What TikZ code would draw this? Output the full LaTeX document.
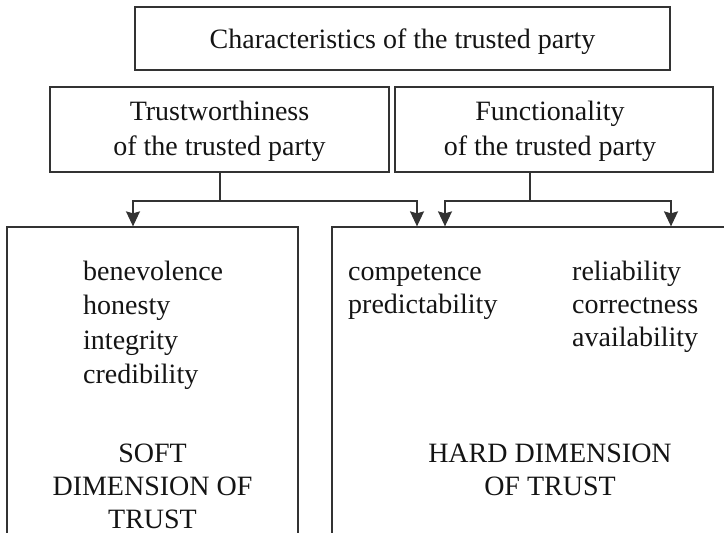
\documentclass[tikz,border=0pt]{standalone}
\usepackage{fontspec}
\setmainfont{Liberation Serif}
\usetikzlibrary{arrows.meta}
\definecolor{inkline}{HTML}{333333}
\definecolor{inktext}{HTML}{141414}
\begin{document}
\begin{tikzpicture}[x=1pt,y=-1pt,
  frame/.style={draw=inkline, line width=1.3pt, rectangle, inner sep=0pt},
  caption/.style={font=\fontsize{28}{35}\selectfont, text=inktext, inner sep=0pt, align=center},
  listtext/.style={font=\fontsize{28}{34.5}\selectfont, text=inktext, inner sep=0pt},
  link/.style={draw=inkline, line width=1.3pt},
  tip/.style={link, -{Stealth[length=15pt,width=14pt,inset=2pt]}}]
\useasboundingbox (0,0) rectangle (724,533);
\clip (0,0) rectangle (724,533);

% heading box
\node[frame, minimum width=535pt, minimum height=63pt] (top) at (402.5,38.5) {};
\node[caption] (toptext) at ([yshift=-3pt]top.center) {Characteristics of the trusted party};

% the two aspects
\node[frame, minimum width=339pt, minimum height=85pt] (worth) at (219.5,129.5) {};
\node[caption] (worthtext) at ([yshift=-2pt]worth.center) {Trustworthiness\\of the trusted party};
\node[frame, minimum width=318pt, minimum height=85pt] (func) at (554,129.5) {};
\node[caption] (functext) at ([xshift=-4pt,yshift=-2pt]func.center) {Functionality\\of the trusted party};

% the two dimensions (open at the bottom)
\node[frame, minimum width=291pt, minimum height=400pt] (soft) at (152.5,427) {};
\node[frame, minimum width=440pt, minimum height=400pt] (hard) at (552,427) {};

% branch points and arrow targets
\coordinate (wj) at (220,201);
\coordinate (fj) at (530,201);
\coordinate (a1) at (133,0);
\coordinate (a2) at (417,0);
\coordinate (a3) at (445,0);
\coordinate (a4) at (671,0);

\draw[link] (wj |- worth.south) -- (wj);
\draw[tip] (wj) -| (a1 |- soft.north);
\draw[tip] (wj) -| (a2 |- hard.north);
\draw[link] (fj |- func.south) -- (fj);
\draw[tip] (fj) -| (a3 |- hard.north);
\draw[tip] (fj) -| (a4 |- hard.north);

% qualities
\node[listtext, anchor=base west] (softlist) at (83,280)
  {\begin{tabular}[t]{@{}l@{}}benevolence\\honesty\\integrity\\credibility\end{tabular}};
\node[listtext, anchor=base west, font=\fontsize{28}{33}\selectfont] (hardlistA) at (348,280)
  {\begin{tabular}[t]{@{}l@{}}competence\\predictability\end{tabular}};
\node[listtext, anchor=base west, font=\fontsize{28}{33}\selectfont] (hardlistB) at (572,280)
  {\begin{tabular}[t]{@{}l@{}}reliability\\correctness\\availability\end{tabular}};

% dimension names
\node[listtext, anchor=base] (softname) at (152.5,462)
  {\fontsize{28}{33}\selectfont\begin{tabular}[t]{@{}c@{}}SOFT\\DIMENSION OF\\TRUST\end{tabular}};
\node[listtext, anchor=base] (hardname) at (550,462)
  {\fontsize{28}{33}\selectfont\begin{tabular}[t]{@{}c@{}}HARD DIMENSION\\OF TRUST\end{tabular}};
\end{tikzpicture}
\end{document}
